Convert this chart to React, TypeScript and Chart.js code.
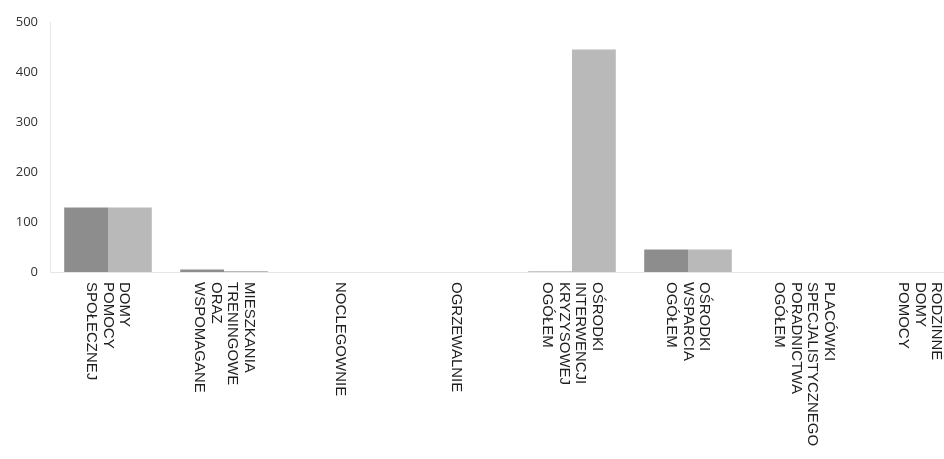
import React, { useEffect, useRef } from 'react';
import { Chart, registerables } from 'chart.js';

Chart.register(...registerables);

const categories: string[][] = [
  ['DOMY', 'POMOCY', 'SPOŁECZNEJ'],
  ['MIESZKANIA', 'TRENINGOWE', 'ORAZ', 'WSPOMAGANE'],
  ['NOCLEGOWNIE'],
  ['OGRZEWALNIE'],
  ['OŚRODKI', 'INTERWENCJI', 'KRYZYSOWEJ', 'OGÓŁEM'],
  ['OŚRODKI', 'WSPARCIA', 'OGÓŁEM'],
  ['PLACÓWKI', 'SPECJALISTYCZNEGO', 'PORADNICTWA', 'OGÓŁEM'],
  ['RODZINNE', 'DOMY', 'POMOCY'],
];

const seriesDark: number[] = [129, 5, 0, 0, 1, 45, 0, 0];
const seriesLight: number[] = [129, 2, 0, 0, 445, 45, 0, 0];
const yTicks: number[] = [0, 100, 200, 300, 400, 500];

const rotatedLabels = {
  id: 'rotatedLabels',
  afterDraw(chart: any) {
    const xs = chart.scales.x;
    const ctx = chart.ctx;
    const lh = 16.5;
    const top = xs.top + 10;
    ctx.save();
    ctx.font = '15px "Liberation Sans", Arial, sans-serif';
    ctx.fillStyle = '#1e1e1e';
    ctx.textAlign = 'left';
    ctx.textBaseline = 'middle';
    categories.forEach((lines, i) => {
      const px = xs.getPixelForTick(i);
      ctx.save();
      ctx.translate(px, top);
      ctx.rotate(Math.PI / 2);
      lines.forEach((t, k) => {
        ctx.fillText(t, 0, (k - (lines.length - 1) / 2) * lh);
      });
      ctx.restore();
    });
    ctx.restore();
  },
};

export default function App() {
  const ref = useRef<HTMLCanvasElement | null>(null);

  useEffect(() => {
    if (!ref.current) return;
    const chart = new Chart(ref.current, {
      type: 'bar',
      data: {
        labels: categories.map((c) => c.join(' ')),
        datasets: [
          {
            label: 'Seria 1',
            data: seriesDark,
            backgroundColor: '#8d8d8d',
            barPercentage: 1,
            categoryPercentage: 0.755,
          },
          {
            label: 'Seria 2',
            data: seriesLight,
            backgroundColor: '#b9b9b9',
            barPercentage: 1,
            categoryPercentage: 0.755,
          },
        ],
      },
      options: {
        animation: false,
        responsive: false,
        maintainAspectRatio: false,
        layout: { padding: { top: 22, right: 22, bottom: 0, left: 0 } },
        plugins: {
          legend: { display: false },
          title: { display: false },
          tooltip: { enabled: false },
        },
        scales: {
          x: {
            grid: { display: false, drawTicks: false },
            border: { display: true, color: '#e6e6e6' },
            ticks: { display: false },
            afterFit: (s: any) => {
              s.height = 187;
            },
          },
          y: {
            min: 0,
            max: 500,
            afterBuildTicks: (s: any) => {
              s.ticks = yTicks.map((v) => ({ value: v }));
            },
            ticks: {
              padding: 12,
              color: '#333',
              font: { family: '"Open Sans", sans-serif', size: 13 },
            },
            grid: { display: false, drawTicks: false },
            border: { display: true, color: '#e6e6e6' },
            afterFit: (s: any) => {
              s.width = 50;
            },
          },
        },
      },
      plugins: [rotatedLabels],
    });
    return () => chart.destroy();
  }, []);

  return (
    <div
      style={{
        position: 'fixed',
        left: 0,
        top: 0,
        width: 944,
        height: 459,
        overflow: 'hidden',
        background: '#fff',
      }}
    >
      <canvas ref={ref} width={1000} height={459} style={{ display: 'block', width: 1000, height: 459 }} />
    </div>
  );
}
